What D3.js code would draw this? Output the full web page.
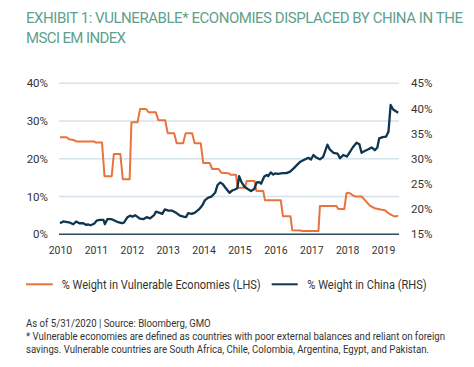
<!DOCTYPE html>
<html>
<head>
<meta charset="utf-8">
<script src="https://cdn.jsdelivr.net/npm/d3@7"></script>
<style>
  html, body { margin: 0; padding: 0; background: #fff; }
  svg { display: block; font-family: Roboto, "Noto Sans", sans-serif; }
</style>
</head>
<body>
<svg id="chart" width="474" height="367"></svg>
<script>
// ---------- data ----------
const years = [2010, 2011, 2012, 2013, 2014, 2015, 2016, 2017, 2018, 2019];
const leftTicks = [0, 10, 20, 30, 40];
const rightTicks = [15, 20, 25, 30, 35, 40, 45];

// % Weight in Vulnerable Economies (LHS)
const vulnTime = [2010.00, 2010.18, 2010.25, 2010.38, 2010.45, 2010.95, 2011.00, 2011.17, 2011.24, 2011.44,
  2011.50, 2011.68, 2011.75, 2011.94, 2011.99, 2012.16, 2012.23, 2012.40, 2012.47, 2012.67,
  2012.74, 2012.93, 2013.00, 2013.18, 2013.25, 2013.43, 2013.50, 2013.68, 2013.75, 2013.92,
  2013.99, 2014.17, 2014.24, 2014.42, 2014.49, 2014.70, 2014.75, 2014.90, 2014.95, 2015.15,
  2015.20, 2015.42, 2015.47, 2015.66, 2015.71, 2016.15, 2016.21, 2016.42, 2016.47, 2016.70,
  2016.75, 2017.20, 2017.24, 2017.70, 2017.75, 2017.92, 2017.98, 2018.05, 2018.15, 2018.22,
  2018.40, 2018.50, 2018.63, 2018.77, 2018.96, 2019.05, 2019.15, 2019.24, 2019.33, 2019.42];
const vulnValue = [25.7, 25.7, 25.2, 25.0, 24.6, 24.6, 24.3, 24.3, 15.4, 15.4,
  21.3, 21.3, 14.6, 14.6, 29.7, 29.7, 33.2, 33.2, 32.3, 32.3,
  30.2, 30.2, 26.8, 26.8, 24.1, 24.1, 26.8, 26.8, 24.1, 24.1,
  18.9, 18.9, 17.3, 17.3, 16.3, 16.2, 15.8, 15.8, 12.3, 12.3,
  14.1, 14.1, 11.5, 11.5, 9.0, 9.0, 4.8, 4.8, 1.1, 1.0,
  0.9, 0.9, 7.5, 7.5, 6.7, 6.7, 10.9, 11.0, 10.4, 10.0,
  10.0, 9.0, 7.6, 6.9, 6.5, 6.4, 5.6, 5.1, 4.7, 4.9];

// % Weight in China (RHS)
const chinaTime = [2010.00, 2010.09, 2010.28, 2010.37, 2010.45, 2010.54, 2010.65, 2010.72, 2010.79, 2010.85,
  2010.95, 2011.02, 2011.11, 2011.21, 2011.25, 2011.32, 2011.44, 2011.53, 2011.62, 2011.72,
  2011.78, 2011.88, 2011.95, 2012.02, 2012.09, 2012.15, 2012.23, 2012.32, 2012.41, 2012.51,
  2012.62, 2012.67, 2012.76, 2012.85, 2012.92, 2013.02, 2013.13, 2013.23, 2013.34, 2013.44,
  2013.51, 2013.57, 2013.67, 2013.76, 2013.87, 2013.96, 2014.04, 2014.13, 2014.22, 2014.32,
  2014.39, 2014.46, 2014.53, 2014.62, 2014.72, 2014.80, 2014.87, 2014.94, 2014.99, 2015.06,
  2015.14, 2015.23, 2015.32, 2015.41, 2015.48, 2015.55, 2015.60, 2015.69, 2015.76, 2015.80,
  2015.87, 2015.94, 2015.99, 2016.08, 2016.20, 2016.31, 2016.41, 2016.50, 2016.59, 2016.69,
  2016.82, 2016.92, 2016.99, 2017.06, 2017.15, 2017.24, 2017.33, 2017.45, 2017.52, 2017.62,
  2017.73, 2017.80, 2017.89, 2017.99, 2018.08, 2018.17, 2018.26, 2018.34, 2018.40, 2018.50,
  2018.59, 2018.68, 2018.77, 2018.84, 2018.89, 2018.99, 2019.08, 2019.15, 2019.21, 2019.28,
  2019.42];
const chinaValue = [17.2, 17.55, 17.3, 17.0, 17.55, 17.2, 17.2, 16.9, 16.95, 16.8,
  17.1, 17.7, 17.85, 17.85, 17.0, 18.0, 18.0, 17.7, 17.4, 17.2,
  17.3, 18.4, 18.7, 18.5, 18.8, 18.5, 18.1, 18.0, 18.4, 18.15,
  18.8, 19.5, 19.3, 19.05, 19.95, 19.7, 19.7, 19.3, 18.7, 18.5,
  18.4, 19.2, 19.05, 19.3, 19.95, 20.7, 21.8, 22.3, 22.5, 23.25,
  24.8, 25.3, 25.0, 24.15, 23.25, 23.7, 23.9, 24.15, 26.55, 25.3,
  24.45, 24.0, 23.6, 24.0, 25.3, 25.35, 25.05, 26.5, 26.8, 26.55,
  27.3, 26.85, 27.1, 27.0, 27.15, 27.15, 27.45, 28.05, 28.7, 29.4,
  29.85, 30.2, 29.85, 30.75, 30.2, 29.9, 30.4, 32.8, 31.8, 31.2,
  31.05, 30.1, 30.75, 30.45, 31.4, 32.4, 33.2, 32.9, 31.2, 31.6,
  31.9, 32.25, 31.7, 32.25, 34.05, 34.3, 34.4, 35.4, 40.7, 39.8,
  39.15];

const seriesNames = ["% Weight in Vulnerable Economies (LHS)", "% Weight in China (RHS)"];
const titleLines = ["EXHIBIT 1: VULNERABLE* ECONOMIES DISPLACED BY CHINA IN THE", "MSCI EM INDEX"];
const notes = [
  "As of 5/31/2020 | Source: Bloomberg, GMO",
  "* Vulnerable economies are defined as countries with poor external balances and reliant on foreign",
  "savings. Vulnerable countries are South Africa, Chile, Colombia, Argentina, Egypt, and Pakistan."
];

// ---------- drawing ----------
const ORANGE = "#e9733d", NAVY = "#10354f", GRID = "#d6e2ea", TEXT = "#333333", TITLE = "#5f9f8d";
const svg = d3.select("#chart");

const x = d3.scaleLinear().domain([2010, 2019]).range([60, 383.1]);
const yL = d3.scaleLinear().domain([0, 40]).range([234.3, 83.3]);
const yR = d3.scaleLinear().domain([15, 45]).range([234.3, 83.3]);
const gridX0 = 59, gridX1 = 399;

// fit text to width helpers
function fit(sel, w) { sel.attr("textLength", w).attr("lengthAdjust", "spacingAndGlyphs"); }
function fitSpacing(sel, w) {
  const node = sel.node();
  const natural = node.getComputedTextLength();
  const n = sel.text().length;
  if (n > 1) sel.attr("letter-spacing", ((w - natural) / (n - 1)).toFixed(3));
}

// title
const titleWidths = [437, 100];
titleLines.forEach((t, i) => {
  svg.append("text").attr("x", 26).attr("y", 22.7 + i * 20.6)
    .attr("fill", TITLE).attr("font-size", 15).attr("font-weight", 400)
    .text(t).call(fitSpacing, titleWidths[i]);
});

// gridlines
svg.append("g").selectAll("line").data(leftTicks.filter(d => d !== 0)).join("line")
  .attr("x1", gridX0).attr("x2", gridX1)
  .attr("y1", d => yL(d)).attr("y2", d => yL(d))
  .attr("stroke", GRID).attr("stroke-width", 1.5);

// left axis
const leftAxis = svg.append("g").attr("transform", `translate(${gridX0},0)`)
  .call(d3.axisLeft(yL).tickValues(leftTicks).tickFormat(d => d + "%").tickSize(0).tickPadding(11));
leftAxis.select(".domain").remove();
leftAxis.selectAll("text").attr("fill", TEXT).attr("font-size", 11.5).attr("font-family", "Roboto");

// right axis
const rightAxis = svg.append("g").attr("transform", `translate(${gridX1},0)`)
  .call(d3.axisRight(yR).tickValues(rightTicks).tickFormat(d => d + "%").tickSize(0).tickPadding(12));
rightAxis.select(".domain").remove();
rightAxis.selectAll("text").attr("fill", TEXT).attr("font-size", 11.5).attr("font-family", "Roboto");

// bottom axis
const bottomAxis = svg.append("g").attr("transform", `translate(0,${yL(0)})`)
  .call(d3.axisBottom(x).tickValues(years).tickFormat(d3.format("d")).tickSize(0).tickPadding(12));
bottomAxis.select(".domain").remove();
bottomAxis.selectAll("text").attr("fill", TEXT).attr("font-size", 11.5).attr("font-family", "Roboto")
  .each(function () { d3.select(this).attr("textLength", 23.5).attr("lengthAdjust", "spacingAndGlyphs"); });

// lines
const vulnData = vulnTime.map((t, i) => [t, vulnValue[i]]);
const chinaData = chinaTime.map((t, i) => [t, chinaValue[i]]);

svg.append("path").datum(vulnData)
  .attr("fill", "none").attr("stroke", ORANGE).attr("stroke-width", 2).attr("stroke-linejoin", "round")
  .attr("d", d3.line().x(d => x(d[0])).y(d => yL(d[1])));

// baseline
svg.append("line").attr("x1", gridX0).attr("x2", gridX1).attr("y1", yL(0)).attr("y2", yL(0))
  .attr("stroke", "#2f4b5e").attr("stroke-width", 1.5);

svg.append("path").datum(chinaData)
  .attr("fill", "none").attr("stroke", NAVY).attr("stroke-width", 2.3).attr("stroke-linejoin", "round")
  .attr("d", d3.line().x(d => x(d[0])).y(d => yR(d[1])));

// legend
const legend = [
  { name: seriesNames[0], color: ORANGE, lx0: 26, lx1: 52.7, tx: 61.7, tw: 199 },
  { name: seriesNames[1], color: NAVY, lx0: 271.7, lx1: 297.7, tx: 307.3, tw: 119.4 }
];
const lg = svg.append("g");
legend.forEach(d => {
  lg.append("line").attr("x1", d.lx0).attr("x2", d.lx1).attr("y1", 284.3).attr("y2", 284.3)
    .attr("stroke", d.color).attr("stroke-width", 2);
  lg.append("text").attr("x", d.tx).attr("y", 288.6).attr("fill", TEXT).attr("font-size", 12.3)
    .text(d.name).call(fit, d.tw);
});

// notes
const noteWidths = [184.7, 419, 403];
const noteY = [327.3, 340.3, 352.7];
notes.forEach((t, i) => {
  svg.append("text").attr("x", 26).attr("y", noteY[i]).attr("fill", TEXT).attr("font-size", 10)
    .text(t).call(fit, noteWidths[i]);
});
</script>
</body>
</html>
